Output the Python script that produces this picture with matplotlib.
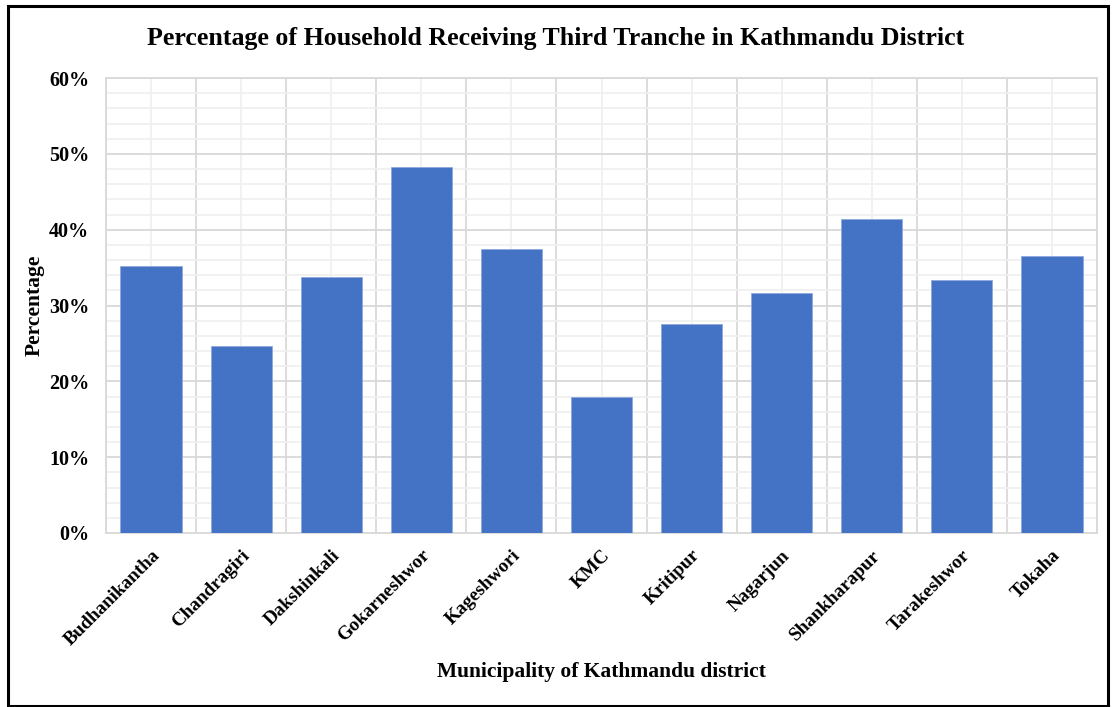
import matplotlib
matplotlib.use("Agg")
import matplotlib.pyplot as plt
from matplotlib.patches import Rectangle
from matplotlib.ticker import MultipleLocator, FixedLocator, FuncFormatter
import numpy as np

categories = ["Budhanikantha", "Chandragiri", "Dakshinkali", "Gokarneshwor", "Kageshwori",
              "KMC", "Kritipur", "Nagarjun", "Shankharapur", "Tarakeshwor", "Tokaha"]
values = [35.2, 24.7, 33.8, 48.2, 37.4, 18.0, 27.6, 31.7, 41.4, 33.4, 36.5]

title = "Percentage of Household Receiving Third Tranche in Kathmandu District"
xlabel = "Municipality of Kathmandu district"
ylabel = "Percentage"

plt.rcParams['font.family'] = ['Liberation Serif', 'DejaVu Serif']
plt.rcParams['font.weight'] = 'bold'

W, H = 1112, 707
fig = plt.figure(figsize=(W/100, H/100), dpi=100)
ax = fig.add_axes([106/W, 1-533/H, (1097-106)/W, (533-78)/H])

x = np.arange(len(categories))
ax.bar(x, values, width=0.68, color="#4472C4", edgecolor="#8FAADC", linewidth=0.6, zorder=3)

ax.set_xlim(-0.5, len(categories)-0.5)
ax.set_ylim(0, 60)
ax.yaxis.set_major_locator(MultipleLocator(10))
ax.yaxis.set_minor_locator(MultipleLocator(2))
ax.yaxis.set_major_formatter(FuncFormatter(lambda v, p: f"{int(v)}%"))
ax.set_xticks(x)
ax.set_xticklabels(categories, rotation=45, ha='right', rotation_mode='anchor',
                   fontsize=13.8, fontweight='bold')
ax.xaxis.set_minor_locator(FixedLocator(np.arange(-0.5, len(categories), 1)))

for lab in ax.get_yticklabels():
    lab.set_fontsize(14.5)
    lab.set_fontweight('bold')

ax.grid(which='major', axis='y', color='#d9d9d9', linewidth=1.3, zorder=0)
ax.grid(which='minor', axis='y', color='#f0f0f0', linewidth=1.3, zorder=0)
ax.grid(which='minor', axis='x', color='#d9d9d9', linewidth=1.3, zorder=0)
ax.grid(which='major', axis='x', color='#f0f0f0', linewidth=1.3, zorder=0)
ax.tick_params(which='both', length=0)
ax.tick_params(axis='y', pad=12)
ax.tick_params(axis='x', pad=10)
for s in ax.spines.values():
    s.set_color('#d9d9d9')
    s.set_linewidth(1.3)

fig.text(556/W, 1-38/H, title, ha='center', va='center', fontsize=18.6, fontweight='bold')
fig.text(601/W, 1-672/H, xlabel, ha='center', va='center', fontsize=15.5, fontweight='bold')
fig.text(35/W, 1-305/H, ylabel, ha='center', va='center', rotation=90, fontsize=15.5, fontweight='bold')

fig.patches.append(Rectangle((8/W, 1/H), (1108-8)/W, (700)/H, transform=fig.transFigure,
                             fill=False, edgecolor='black', linewidth=2.2))

fig.savefig("out.png", dpi=100)
